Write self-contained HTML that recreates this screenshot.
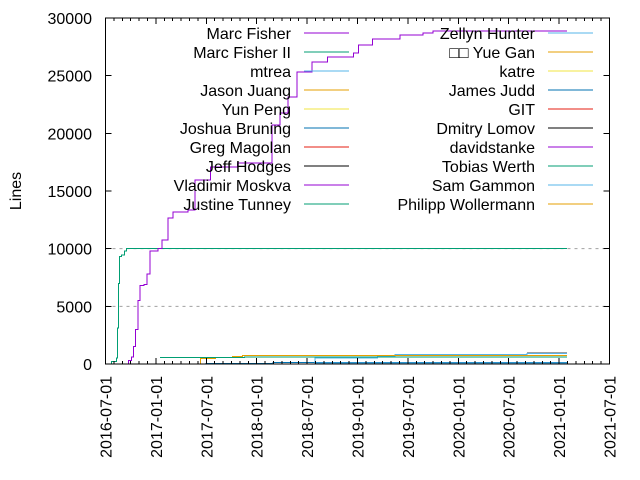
<!DOCTYPE html>
<html><head><meta charset="utf-8"><style>
html,body{margin:0;padding:0;background:#fff}
svg{display:block;font-family:"Liberation Sans","Noto Sans CJK SC",sans-serif}
#series path,#legend line,#axes line,#axes rect{shape-rendering:crispEdges}
</style></head><body>
<svg id="chart" width="640" height="480" viewBox="0 0 640 480">
<g id="grid"></g>
<g id="series"></g>
<g id="legend"></g>
<g id="axes"></g>
<text x="21" y="191" font-size="16" text-anchor="middle" transform="rotate(-90 21 191)">Lines</text>
</svg>
<script>
const yTicks=[0,5000,10000,15000,20000,25000,30000];
const xTickLabels=["2016-07-01","2017-01-01","2017-07-01","2018-01-01","2018-07-01","2019-01-01","2019-07-01","2020-01-01","2020-07-01","2021-01-01","2021-07-01"];
const xTickYears=[2016.5,2017,2017.5,2018,2018.5,2019,2019.5,2020,2020.5,2021,2021.5];
const gridValues=[5000,10000];
const seriesNames=["Marc Fisher","Marc Fisher II","mtrea","Jason Juang","Yun Peng","Joshua Bruning","Greg Magolan","Jeff Hodges","Vladimir Moskva","Justine Tunney","Zellyn Hunter","\u25A1\u25A1 Yue Gan","katre","James Judd","GIT","Dmitry Lomov","davidstanke","Tobias Werth","Sam Gammon","Philipp Wollermann"];
const seriesColors=["#9400d3","#009e73","#56b4e9","#e69f00","#f0e442","#0072b2","#e51e10","#000000","#9400d3","#009e73","#56b4e9","#e69f00","#f0e442","#0072b2","#e51e10","#000000","#9400d3","#009e73","#56b4e9","#e69f00"];
const marcFisherX=[2016.70,2016.73,2016.76,2016.78,2016.80,2016.82,2016.84,2016.88,2016.91,2016.94,2017.02,2017.06,2017.12,2017.17,2017.32,2017.39,2017.54,2017.81,2018.15,2018.23,2018.31,2018.40,2018.55,2018.70,2018.96,2019.01,2019.15,2019.42,2019.65,2019.75,2021.08];
const marcFisherY=[0,300,600,1500,3000,5500,6800,6900,7800,9800,10000,10760,12660,13180,13360,15960,17090,17430,20730,21770,23160,25330,26190,26630,26970,27670,28190,28540,28710,28880,28880];
const marcFisher2X=[2016.51,2016.56,2016.61,2016.62,2016.63,2016.64,2016.66,2016.69,2016.71,2021.08];
const marcFisher2Y=[0,200,500,3100,7000,9300,9450,9800,10000,10000];
const greenSmallX=[2017.04,2017.88,2021.08];
const greenSmallY=[550,620,620];
const orangeX=[2017.42,2017.44,2017.59,2017.76,2017.86,2021.08];
const orangeY=[0,490,580,670,750,750];
const lightBlueX=[2018.57,2018.58,2019.20,2019.37,2020.68,2021.08];
const lightBlueY=[0,520,690,840,930,930];
const blueX=[2017.49,2018.16,2021.08];
const blueY=[30,150,150];
const lightBlue2X=[2018.58,2021.08];
const lightBlue2Y=[70,70];
const redX=[2018.36,2019.84];
const redY=[20,20];
const greyX=[2020.68,2021.08];
const greyY=[1000,1000];

const NS="http://www.w3.org/2000/svg";
const L=105.5,R=609.5,T=18,B=364;
function xs(yr){return L+(yr-2016.5)/5*(R-L);}
function ys(v){return B-v/30000*(B-T);}
function el(tag,attrs,parent){const e=document.createElementNS(NS,tag);for(const k in attrs)e.setAttribute(k,attrs[k]);parent.appendChild(e);return e;}
const grid=document.getElementById('grid'),axes=document.getElementById('axes'),ser=document.getElementById('series'),leg=document.getElementById('legend');

gridValues.forEach(v=>{
  const g=el('line',{x1:L,x2:R,y1:ys(v),y2:ys(v),stroke:'#a0a0a0','stroke-dasharray':'3,4'},grid);
  
  
});
function stepPath(xa,ya,color,name){
  let d='M'+xs(xa[0])+','+ys(ya[0]);
  for(let i=1;i<xa.length;i++){d+='L'+xs(xa[i])+','+ys(ya[i-1])+'L'+xs(xa[i])+','+ys(ya[i]);}
  const p=el('path',{d:d,fill:'none',stroke:color,'stroke-width':1},ser);
  
  
}
stepPath(greyX,greyY,'#a0a0a0','series-grey');
stepPath(redX,redY,'#e51e10','series-git');
stepPath(blueX,blueY,'#0072b2','series-joshua-bruning');
stepPath(lightBlue2X,lightBlue2Y,'#56b4e9','series-zellyn-hunter');
stepPath(lightBlueX,lightBlueY,'#56b4e9','series-mtrea');
stepPath(orangeX,orangeY,'#e69f00','series-jason-juang');
stepPath(greenSmallX,greenSmallY,'#009e73','series-justine-tunney');
stepPath(marcFisher2X,marcFisher2Y,'#009e73','series-marc-fisher-ii');
stepPath(marcFisherX,marcFisherY,'#9400d3','series-marc-fisher');

seriesNames.forEach((n,i)=>{
  const col=i<10?0:1,row=i%10;
  const tx=col?535:291,lx=col?548:304,y=33+row*19;
  const t=el('text',{x:tx,y:y+6,'font-size':16,'text-anchor':'end',fill:'#000'},leg);
  t.textContent=n;
  
  
  const s=el('line',{x1:lx,x2:lx+45,y1:y,y2:y,stroke:seriesColors[i],'stroke-width':1},leg);
  
  
});

const frame=el('rect',{x:L,y:T,width:R-L,height:B-T,fill:'none',stroke:'#000','stroke-width':1},axes);


yTicks.forEach(v=>{
  const y=ys(v);
  el('line',{x1:L,x2:L+6,y1:y,y2:y,stroke:'#000'},axes);
  el('line',{x1:R-6,x2:R,y1:y,y2:y,stroke:'#000'},axes);
  const t=el('text',{x:92,y:y+6,'font-size':16,'text-anchor':'end'},axes);
  t.textContent=v;
  
  
});
for(let m=0;m<=60;m++){
  const x=xs(2016.5+m/12),len=(m%6===0)?6:3;
  el('line',{x1:x,x2:x,y1:B,y2:B-len,stroke:'#000'},axes);
  el('line',{x1:x,x2:x,y1:T,y2:T+len,stroke:'#000'},axes);
}
xTickYears.forEach((yr,i)=>{
  const x=xs(yr)+6;
  const t=el('text',{x:x,y:376,'font-size':16,'text-anchor':'end',transform:'rotate(-90 '+x+' 376)'},axes);
  t.textContent=xTickLabels[i];
  
  
});
</script>
</body></html>
